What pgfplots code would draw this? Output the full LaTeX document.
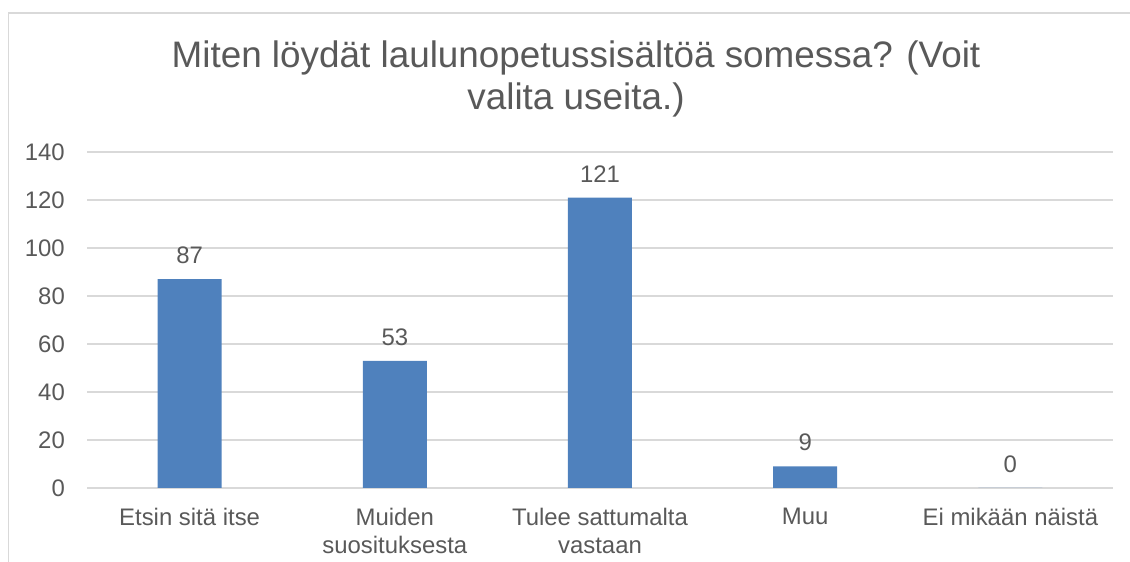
\documentclass[border=0pt]{standalone}
\usepackage{pgfplots}
\pgfplotsset{compat=1.18}
\usepackage{fontspec}
\setmainfont{Liberation Sans}
\definecolor{txt}{HTML}{595959}
\definecolor{grd}{HTML}{D9D9D9}
\definecolor{bar}{HTML}{4F81BD}
\begin{document}
\begin{tikzpicture}[x=1bp,y=1bp]
\path[use as bounding box] (0,0) rectangle (1130,562);
\draw[grd, line width=1.5bp] (8.5,-20) -- (8.5,549) -- (1150,549);
\node[txt, align=center, font=\fontsize{37}{42}\selectfont] at (576,483) {Miten löydät laulunopetussisältöä somessa? (Voit\\valita useita.)};
\begin{axis}[
  at={(87bp,74bp)}, anchor=south west,
  scale only axis, width=1026bp, height=336bp,
  xmin=-0.5, xmax=4.5, ymin=0, ymax=140,
  ytick={0,20,...,140},
  xtick={0,1,2,3,4},
  xticklabels={Etsin sitä itse, Muiden\\suosituksesta, Tulee sattumalta\\vastaan, Muu, Ei mikään näistä},
  axis line style={draw=none},
  major tick length=0pt,
  ymajorgrids,
  grid style={draw=grd, line width=1.2bp},
  /pgf/number format/assume math mode=true,
  tick label style={font=\fontsize{24}{28}\selectfont, text=txt},
  yticklabel style={inner sep=0pt, anchor=east, xshift=-22bp},
  xticklabel style={inner sep=0pt, anchor=north, yshift=-20bp, align=center},
  ybar, bar width=64bp,
  nodes near coords,
  nodes near coords style={font=\fontsize{24}{28}\selectfont, text=txt, anchor=south, inner sep=0pt, yshift=15bp},
  clip=false,
]
\addplot[fill=bar, draw=none] coordinates {(0,87) (1,53) (2,121) (3,9) (4,0)};
\end{axis}
\end{tikzpicture}
\end{document}
